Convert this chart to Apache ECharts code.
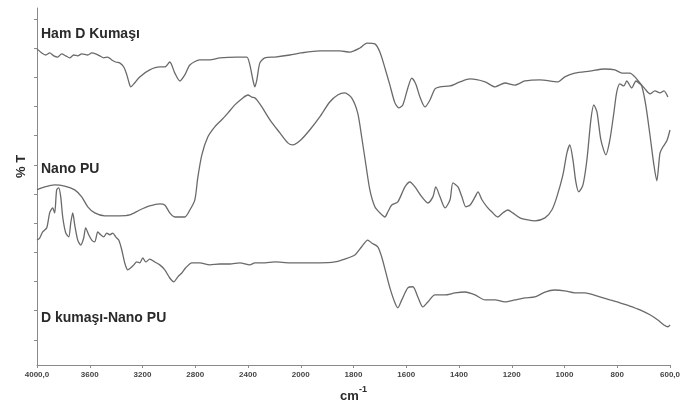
<!DOCTYPE html>
<html>
<head>
<meta charset="utf-8">
<script src="https://cdn.jsdelivr.net/npm/echarts@6/dist/echarts.min.js"></script>
<style>
html,body{margin:0;padding:0;background:#fff;}
#chart{width:696px;height:407px;}
</style>
</head>
<body>
<div id="chart"></div>
<script>
// Tick labels of the wavenumber axis (scale changes at 2000 cm-1)
const xTickLabels = ["4000,0","3600","3200","2800","2400","2000","1800","1600","1400","1200","1000","800","600,0"];
const yTickValues = [10,20,30,40,50,60,70,80,90,100,110,120];
const seriesNames = ["Ham D Kumaşı","Nano PU","D kumaşı-Nano PU"];

// Ham D Kumaşı : wavenumber (cm-1) and %T
const hamWn = [4000,3964,3934,3904,3873,3843,3813,3782,3752,3722,3691,3661,3615,3585,3555,3524,3494,3464,3433,3403,3373,3342,3319,3304,3289,3266,3221,3145,3069,3031,2993,2955,2917,2879,2841,2766,2690,2614,2485,2409,2386,2363,2348,2333,2310,2272,2196,2082,2000,1928,1852,1814,1776,1749,1719,1700,1681,1662,1643,1628,1613,1594,1579,1564,1548,1529,1510,1491,1472,1434,1396,1358,1301,1263,1226,1188,1150,1093,1025,999,961,904,847,809,782,752,733,714,695,676,657,638,623,608];
const hamT  = [109.7,108.3,107.6,108.3,107.3,106.9,108.0,107.3,106.6,107.6,107.3,108.0,107.6,108.3,108.0,107.3,106.6,106.9,105.9,105.2,104.9,103.5,100.8,98.4,96.7,97.7,100.1,102.5,103.5,103.5,105.2,101.4,98.7,100.8,104.2,105.9,105.9,106.6,106.9,106.9,104.2,99.1,96.7,99.1,104.9,106.6,106.9,107.6,108.3,109.0,109.0,108.6,110.0,111.7,111.4,108.6,103.2,97.3,91.2,89.5,90.5,96.3,99.7,97.7,93.2,89.8,92.2,96.0,96.7,97.0,98.4,99.4,98.4,96.7,98.0,97.3,98.7,99.1,98.4,100.1,101.4,102.1,102.8,102.5,101.4,101.4,100.1,98.0,96.0,94.3,95.3,94.6,95.3,93.2];

// Nano PU
const puWn = [4000,3942,3866,3790,3714,3661,3615,3562,3486,3373,3297,3221,3145,3069,3031,2993,2955,2879,2841,2803,2781,2750,2705,2652,2599,2553,2500,2439,2401,2371,2348,2333,2295,2234,2158,2098,2060,2000,1966,1928,1890,1860,1833,1807,1784,1769,1754,1738,1719,1700,1681,1670,1655,1632,1605,1586,1567,1541,1518,1499,1488,1472,1453,1434,1423,1404,1389,1374,1358,1339,1328,1313,1294,1275,1253,1234,1215,1196,1169,1139,1112,1074,1048,1029,1006,991,980,968,957,946,930,915,900,889,877,862,843,828,813,802,790,775,764,745,729,718,707,692,676,661,650,638,627,612,600];
const puT  = [61.4,62.4,63.1,62.7,61.4,59.0,55.6,53.5,52.5,52.5,52.8,54.5,55.9,56.6,56.2,53.5,52.1,52.1,54.5,58.0,65.5,73.4,79.5,83.0,85.4,87.7,90.5,92.9,93.9,93.2,92.9,92.2,89.8,85.4,80.9,77.5,76.8,78.5,81.9,86.4,91.5,93.9,94.6,92.9,87.7,79.5,70.6,61.4,55.6,53.5,52.1,53.8,56.2,57.3,62.4,64.1,62.4,59.0,56.9,59.0,62.4,59.0,55.2,58.0,63.8,62.4,59.0,55.6,56.2,59.0,60.7,58.0,55.6,53.8,52.1,53.5,54.5,53.5,51.8,51.1,50.8,51.8,54.5,59.0,66.5,74.0,76.8,71.7,64.1,60.7,63.1,71.7,85.4,90.5,88.1,78.5,73.4,78.5,87.7,94.9,97.7,97.0,98.7,96.3,98.7,98.0,97.0,90.5,80.2,69.9,64.5,74.0,76.1,78.2,81.9];

// D kumaşı-Nano PU
const dkWn = [4000,3980,3957,3926,3904,3881,3866,3851,3835,3820,3805,3782,3759,3744,3729,3714,3691,3668,3646,3631,3608,3585,3562,3539,3517,3494,3471,3448,3426,3403,3380,3357,3335,3312,3289,3266,3244,3221,3198,3175,3145,3107,3069,3031,2993,2963,2932,2902,2872,2826,2766,2690,2614,2538,2462,2386,2348,2272,2196,2082,2000,1928,1871,1833,1795,1769,1746,1731,1708,1693,1678,1662,1643,1632,1617,1594,1575,1556,1537,1518,1491,1453,1415,1377,1339,1301,1263,1226,1188,1150,1112,1074,1037,999,961,923,866,828,790,752,714,676,646,623,608,600];
const dkT  = [44.2,44.9,47.0,48.4,53.5,55.2,53.5,61.4,62.1,59.0,52.1,46.6,45.3,50.1,53.5,49.4,44.2,42.5,44.9,48.4,46.0,44.2,43.6,47.0,46.0,45.3,46.6,46.0,46.6,45.3,44.2,40.8,36.4,34.0,34.7,35.7,36.7,36.4,38.1,36.7,37.7,36.7,35.7,34.0,31.2,29.9,31.6,32.9,34.7,36.4,36.4,35.7,36.0,36.0,36.4,35.7,36.4,36.4,36.7,36.4,36.4,36.4,36.7,37.7,39.1,41.9,44.2,43.2,41.9,38.4,33.3,27.8,22.7,21.0,23.7,27.8,28.2,24.7,21.3,23.0,25.4,25.4,26.1,26.4,25.4,23.7,23.7,23.0,23.7,24.4,24.7,26.4,27.1,26.8,26.1,26.1,24.7,23.7,22.7,21.6,20.3,18.6,16.8,15.1,14.5,15.1];

// wavenumber -> position on the evenly spaced tick axis (400 steps above 2000, 200 below)
function axisPos(wn){ return wn >= 2000 ? (4000 - wn) / 400 : 5 + (2000 - wn) / 200; }
function build(wn, t){ return wn.map((w,i)=>[axisPos(w), t[i]]); }

const chart = echarts.init(document.getElementById('chart'), null, {renderer:'canvas'});
const lineColor = '#6a6a6a';
const labelFont = {fontFamily:'"Liberation Sans", Arial, sans-serif', fontWeight:'bold', fontSize:14, fill:'#2a2a2a'};

chart.setOption({
  animation:false,
  backgroundColor:'#fff',
  grid:{left:37, right:26, top:8, bottom:42},
  xAxis:{
    type:'value', min:0, max:12, interval:1,
    axisLine:{show:true, onZero:false, lineStyle:{color:'#8a8a8a', width:1}},
    axisTick:{show:true, length:3, lineStyle:{color:'#8a8a8a'}},
    splitLine:{show:false},
    axisLabel:{
      margin:6, fontSize:8, fontWeight:'bold', color:'#444',
      fontFamily:'"Liberation Sans", Arial, sans-serif',
      formatter:(v)=>xTickLabels[Math.round(v)] || ''
    }
  },
  yAxis:{
    type:'value', min:1.4, max:123.7,
    axisLine:{show:true, onZero:false, lineStyle:{color:'#8a8a8a', width:1}},
    axisTick:{show:true, length:3, customValues:yTickValues, lineStyle:{color:'#8a8a8a'}},
    axisLabel:{show:false},
    splitLine:{show:false}
  },
  series:[
    {name:seriesNames[0], type:'line', data:build(hamWn, hamT), showSymbol:false, smooth:0.25, lineStyle:{color:lineColor, width:1.3}},
    {name:seriesNames[1], type:'line', data:build(puWn, puT), showSymbol:false, smooth:0.25, lineStyle:{color:lineColor, width:1.3}},
    {name:seriesNames[2], type:'line', data:build(dkWn, dkT), showSymbol:false, smooth:0.25, lineStyle:{color:lineColor, width:1.3}}
  ],
  graphic:[
    {type:'text', left:41, top:27, style:Object.assign({text:seriesNames[0]}, labelFont)},
    {type:'text', left:41, top:162, style:Object.assign({text:seriesNames[1]}, labelFont)},
    {type:'text', left:41, top:311, style:Object.assign({text:seriesNames[2]}, labelFont)},
    {type:'text', x:15, y:178, rotation:Math.PI/2, style:Object.assign({}, labelFont, {text:'% T', verticalAlign:'top', align:'left', fontSize:13})},
    {type:'text', left:340, top:390, style:Object.assign({}, labelFont, {text:'cm', fontSize:13})},
    {type:'text', left:359, top:385, style:Object.assign({}, labelFont, {text:'-1', fontSize:9})}
  ]
});
</script>
</body>
</html>
